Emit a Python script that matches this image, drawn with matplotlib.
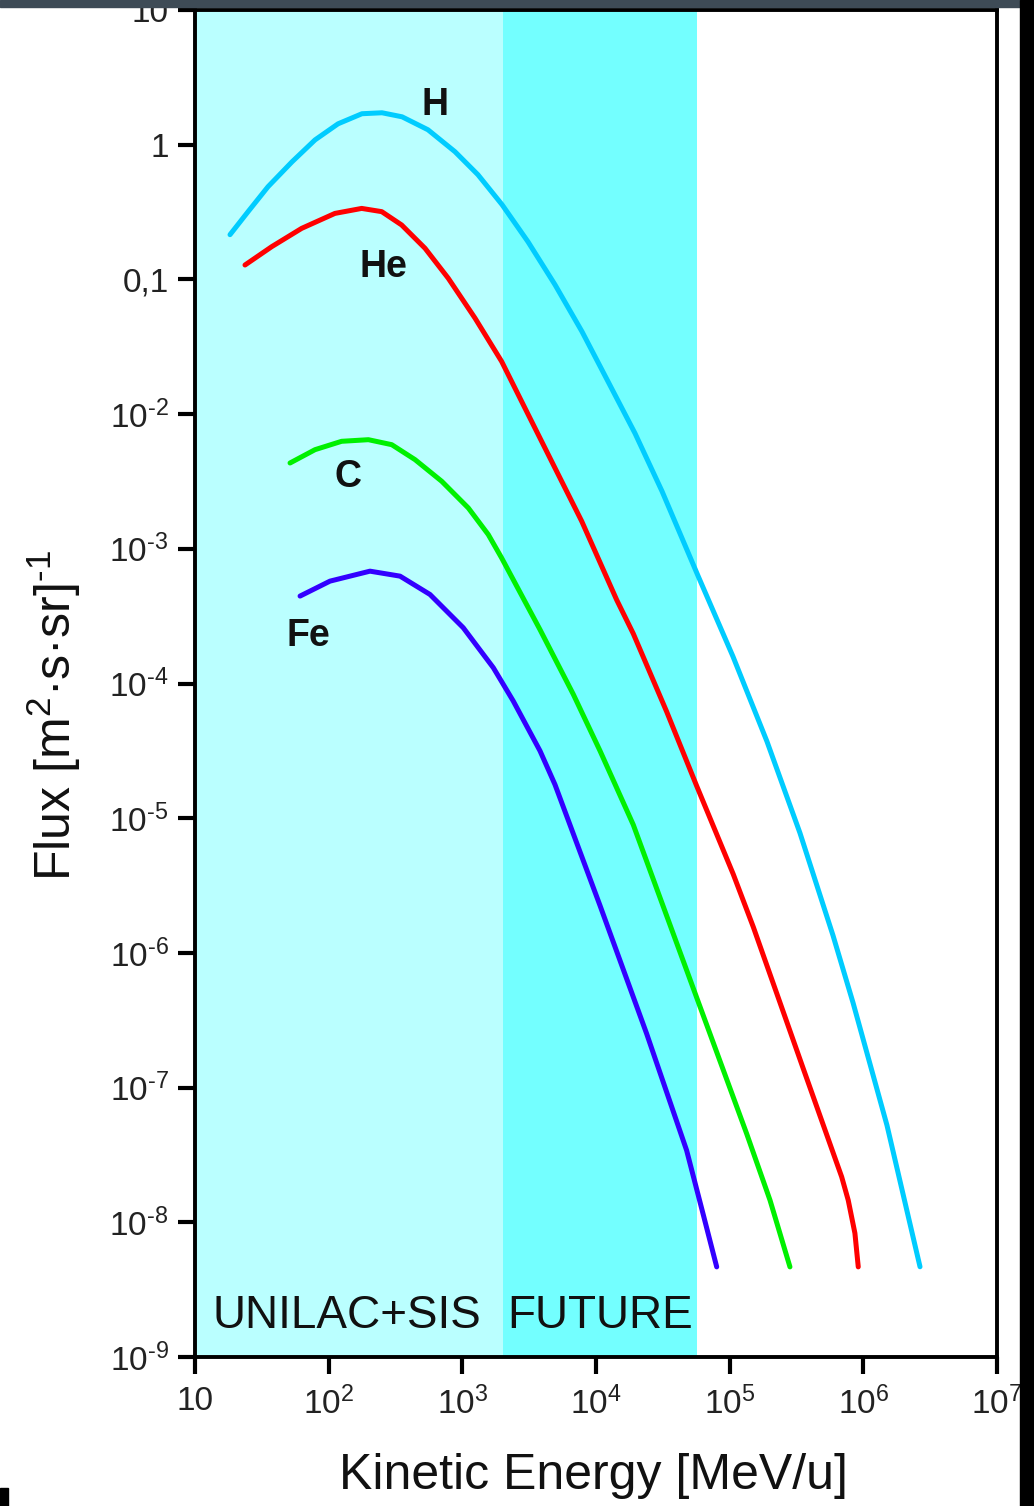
import matplotlib
matplotlib.use("Agg")
import matplotlib.pyplot as plt
from matplotlib.patches import Rectangle

plt.rcParams['font.family'] = ['Liberation Sans', 'DejaVu Sans']
plt.rcParams['mathtext.default'] = 'regular'

# ---- data (energy in MeV/u, flux in (m^2 s sr)^-1) ----
h_energy = [18.28, 24.95, 35.16, 53.2, 79.1, 117.5, 177.4, 250.6, 354, 553, 881, 1309,
            1982, 3097, 4932, 7852, 12300, 19590, 31190, 57940, 105900, 190100,
            335700, 592900, 837500, 1503000, 2655000]
h_flux = [0.2148, 0.3184, 0.4875, 0.7464, 1.086, 1.429, 1.698, 1.726, 1.611, 1.291,
          0.8872, 0.5984, 0.3589, 0.1905, 0.09141, 0.04102, 0.01746, 7.194e-3,
          2.673e-3, 6.310e-4, 1.585e-4, 3.715e-5, 7.762e-6, 1.349e-6, 4.266e-7,
          5.248e-8, 4.677e-9]

he_energy = [23.66, 37.50, 62.81, 111.4, 176.6, 249.5, 351.6, 526.0, 785.2, 1245, 1968,
             3112, 4932, 7816, 14290, 19010, 33810, 56620, 106400, 150300, 224900,
             355600, 688700, 770900, 865000, 916200]
he_flux = [0.1279, 0.1750, 0.2393, 0.3090, 0.3365, 0.3184, 0.2535, 0.1702, 0.1019,
           0.05152, 0.02460, 9.908e-3, 3.981e-3, 1.603e-3, 4.169e-4, 2.344e-4,
           6.166e-5, 1.738e-5, 3.837e-6, 1.556e-6, 5.012e-7, 1.380e-7, 2.173e-8,
           1.459e-8, 8.299e-9, 4.667e-9]

c_energy = [51.40, 79.07, 125.0, 198.2, 296.5, 442.6, 701.5, 1109, 1563, 1968, 3811,
            6761, 10720, 19010, 30130, 56620, 134000, 200400, 282500]
c_flux = [4.335e-3, 5.445e-3, 6.281e-3, 6.457e-3, 5.929e-3, 4.592e-3, 3.170e-3,
          2.009e-3, 1.276e-3, 8.551e-4, 2.512e-4, 8.318e-5, 3.162e-5, 8.933e-6,
          2.570e-6, 4.667e-7, 4.550e-8, 1.459e-8, 4.667e-9]

fe_energy = [61.09, 102.3, 203.7, 342.0, 572.8, 1016, 1706, 2404, 3811, 4932, 10720,
             23930, 47640, 63530, 79980]
fe_flux = [4.457e-4, 5.754e-4, 6.823e-4, 6.266e-4, 4.581e-4, 2.594e-4, 1.309e-4,
           7.413e-5, 3.162e-5, 1.778e-5, 2.244e-6, 2.512e-7, 3.420e-8, 1.135e-8,
           4.667e-9]

series_names = ["H", "He", "C", "Fe"]
label_pos_energy = [623.7, 257, 140.6, 70.5]
label_pos_flux = [1.667, 0.105, 2.864e-3, 1.897e-4]

regions = ["UNILAC+SIS", "FUTURE"]
region_edges = [10, 2000, 57000]
region_label_energy = [137, 10720]
region_label_flux = 1.64e-9

x_ticks = [10, 1e2, 1e3, 1e4, 1e5, 1e6, 1e7]
x_tick_labels = ["10", "$10^2$", "$10^3$", "$10^4$", "$10^5$", "$10^6$", "$10^7$"]
y_ticks = [10, 1, 0.1, 1e-2, 1e-3, 1e-4, 1e-5, 1e-6, 1e-7, 1e-8, 1e-9]
y_tick_labels = ["10", "1", "0,1", "$10^{\u2010 2}$", "$10^{\u2010 3}$", "$10^{\u2010 4}$",
                 "$10^{\u2010 5}$", "$10^{\u2010 6}$", "$10^{\u2010 7}$", "$10^{\u2010 8}$",
                 "$10^{\u2010 9}$"]

# ---- figure ----
W, H = 1034, 1506
fig = plt.figure(figsize=(W / 100, H / 100), dpi=100)
ax = fig.add_axes([195 / W, 1 - 1357 / H, 802 / W, (1357 - 10) / H])
ax.set_xscale('log')
ax.set_yscale('log')
ax.set_xlim(10, 1e7)
ax.set_ylim(1e-9, 10)

region_colors = ['#BAFFFF', '#73FFFF']
for i in range(2):
    ax.axvspan(region_edges[i], region_edges[i + 1], color=region_colors[i], lw=0, zorder=0)

colors = ['#00CCFF', '#FF0000', '#00F000', '#3300FF']
data = [(h_energy, h_flux), (he_energy, he_flux), (c_energy, c_flux), (fe_energy, fe_flux)]
for (e, f), col in zip(data, colors):
    ax.plot(e, f, color=col, lw=3.6, solid_capstyle='round', solid_joinstyle='round',
            zorder=3)

for name, xe, yf in zip(series_names, label_pos_energy, label_pos_flux):
    ax.text(xe, yf, name, fontsize=27, fontweight='bold', ha='center', va='baseline',
            color='#111111', zorder=4)

for name, xe in zip(regions, region_label_energy):
    ax.text(xe, region_label_flux, name, fontsize=33, ha='center', va='baseline',
            color='#111111', zorder=4)

ax.set_xticks(x_ticks)
ax.set_xticklabels(x_tick_labels)
ax.set_yticks(y_ticks)
ax.set_yticklabels(y_tick_labels)
ax.minorticks_off()
ax.tick_params(axis='both', which='major', labelsize=24, width=3, length=12,
               direction='out', color='black', labelcolor='#222222')
ax.tick_params(axis='x', pad=9)
ax.tick_params(axis='y', pad=7)
for sp in ax.spines.values():
    sp.set_linewidth(2.8)
    sp.set_color('black')

ax.set_xlabel("Kinetic Energy [MeV/u]", fontsize=36, color='#111111')
ax.xaxis.set_label_coords(0.497, -0.071)
ax.set_ylabel("Flux [m$^2$·s·sr]$^{\u2010 1}$", fontsize=36, color='#111111')
ax.yaxis.set_label_coords(-0.140, 0.476)

# screenshot frame remnants
fig.patches.append(Rectangle((0, 1 - 7 / H), 1, 7 / H, transform=fig.transFigure,
                             color='#3E4B56', zorder=10))
fig.patches.append(Rectangle((1020 / W, 0), 14 / W, 1, transform=fig.transFigure,
                             color='black', zorder=10))
fig.patches.append(Rectangle((0, 0), 8 / W, 18 / H, transform=fig.transFigure,
                             color='black', zorder=10))

fig.savefig("out.png", dpi=100)
